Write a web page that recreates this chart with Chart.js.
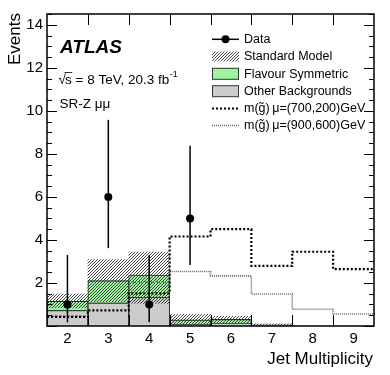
<!DOCTYPE html>
<html>
<head>
<meta charset="utf-8">
<script src="https://cdn.jsdelivr.net/npm/chart.js@4.4.1/dist/chart.umd.min.js"></script>
<style>
  html, body { margin: 0; padding: 0; background: #fff; }
  #wrap { width: 390px; height: 375px; }
</style>
</head>
<body>
<div id="wrap"><canvas id="chart" width="390" height="375"></canvas></div>
<script>
// jet multiplicity bins
const bins = ['2', '3', '4', '5', '6', '7', '8', '9'];
const binCentres = [2, 3, 4, 5, 6, 7, 8, 9];

// backgrounds (stacked)
const otherBkg = [0.73, 1.08, 1.34, 0.08, 0.14, 0.06, 0, 0];
const flavourSym = [0.43, 1.03, 1.03, 0.21, 0.17, 0, 0, 0];

// standard model uncertainty band
const smLow = [0.84, 1.12, 1.05, 0.06, 0.16, 0.02, 0, 0];
const smHigh = [1.48, 3.09, 3.43, 0.54, 0.45, 0.1, 0, 0];

// data with poisson errors
const dataCounts = [1, 6, 1, 5, null, null, null, null];
const dataErrLow = [0.17, 3.62, 0.17, 2.84, null, null, null, null];
const dataErrHigh = [3.3, 9.58, 3.3, 8.38, null, null, null, null];

// signal points
const sig700 = [0.42, 0.73, 1.52, 4.16, 4.5, 2.79, 3.45, 2.64];
const sig900 = [0.45, 1.08, 2.03, 2.53, 2.33, 1.49, 0.78, 0.56];

const yTickLabels = [2, 4, 6, 8, 10, 12, 14];

const FONT = '"Liberation Sans", Arial, Helvetica, sans-serif';

function makeHatch() {
    const c = document.createElement('canvas');
    c.width = 3; c.height = 3;
    const g = c.getContext('2d');
    g.strokeStyle = '#333';
    g.lineWidth = 0.9;
    g.beginPath();
    g.moveTo(0, 3); g.lineTo(3, 0);
    g.moveTo(-1, 1); g.lineTo(1, -1);
    g.moveTo(2, 4); g.lineTo(4, 2);
    g.stroke();
    return g.createPattern(c, 'repeat');
}

function stepPoints(values) {
    const pts = [];
    values.forEach(function (v, i) {
        pts.push({ x: binCentres[i] - 0.5, y: v });
        pts.push({ x: binCentres[i] + 0.5, y: v });
    });
    return pts;
}

const ctx = document.getElementById('chart').getContext('2d');
const hatch = makeHatch();
const green = '#9cf59c';
const grey = '#cccccc';

const decorations = {
    id: 'decorations',
    afterDatasetsDraw(chart) {
        const c = chart.ctx;
        const a = chart.chartArea;
        const y = chart.scales.y;
        const xl = chart.scales.xl;
        const x = chart.scales.x;
        c.save();

        // error bars
        c.strokeStyle = '#000';
        c.lineWidth = 1.5;
        dataCounts.forEach(function (v, i) {
            if (v === null) return;
            const px = x.getPixelForValue(i);
            c.beginPath();
            c.moveTo(px, y.getPixelForValue(dataErrLow[i]));
            c.lineTo(px, y.getPixelForValue(dataErrHigh[i]));
            c.stroke();
        });

        // inward ticks
        c.lineWidth = 1;
        for (let v = 0; v <= 14.5; v += 0.5) {
            const py = Math.round(y.getPixelForValue(v)) + 0.5;
            const len = v % 2 === 0 ? 10 : 5;
            c.beginPath();
            c.moveTo(a.left, py); c.lineTo(a.left + len, py);
            c.moveTo(a.right, py); c.lineTo(a.right - len, py);
            c.stroke();
        }
        for (let e = 2.5; e < 9.5; e += 1) {
            const px = Math.round(xl.getPixelForValue(e)) + 0.5;
            c.beginPath();
            c.moveTo(px, a.bottom); c.lineTo(px, a.bottom - 11);
            c.moveTo(px, a.top); c.lineTo(px, a.top + 11);
            c.stroke();
        }
        c.lineWidth = 1.5;
        c.strokeRect(a.left, a.top, a.right - a.left, a.bottom - a.top);
        c.restore();
    },
    afterDraw(chart) {
        const c = chart.ctx;
        c.save();
        c.fillStyle = '#000';
        c.textBaseline = 'alphabetic';

        // axis titles
        c.font = '17px ' + FONT;
        c.textAlign = 'right';
        c.fillText('Jet Multiplicity', 373, 364);
        c.save();
        c.translate(19.5, 13);
        c.rotate(-Math.PI / 2);
        c.fillText('Events', 0, 0);
        c.restore();

        // labels
        c.textAlign = 'left';
        c.font = 'italic bold 19px ' + FONT;
        c.fillText('ATLAS', 60, 52.5);

        c.font = '13.5px ' + FONT;
        c.fillText('\u221A', 58.5, 83.5);
        const sx = 65;
        c.fillText('s = 8 TeV, 20.3 fb', sx, 83.5);
        const sw = c.measureText('s').width;
        const fw = c.measureText('s = 8 TeV, 20.3 fb').width;
        c.lineWidth = 0.8;
        c.beginPath();
        c.moveTo(sx - 0.5, 72.5); c.lineTo(sx + sw + 0.5, 72.5);
        c.stroke();
        c.font = '9px ' + FONT;
        c.fillText('-1', sx + fw + 0.5, 77);

        c.font = '13.5px ' + FONT;
        c.fillText('SR-Z \u03BC\u03BC', 59.5, 107.5);

        // legend
        const lx0 = 212, lx1 = 239, tx = 244;
        const rows = [39.3, 56.5, 73.8, 91.2, 108.5, 125.5];
        c.font = '12.5px ' + FONT;
        c.textBaseline = 'middle';
        const texts = ['Data', 'Standard Model', 'Flavour Symmetric', 'Other Backgrounds',
            'm(g\u0303)\u2009\u03BC=(700,200)GeV', 'm(g\u0303)\u2009\u03BC=(900,600)GeV'];
        texts.forEach(function (t, i) { c.fillText(t, tx, rows[i] + 0.5); });

        c.strokeStyle = '#000';
        c.lineWidth = 1.5;
        c.beginPath();
        c.moveTo(lx0, rows[0]); c.lineTo(lx1, rows[0]);
        c.stroke();
        c.beginPath();
        c.arc((lx0 + lx1) / 2, rows[0], 4, 0, Math.PI * 2);
        c.fill();

        c.fillStyle = hatch;
        c.fillRect(lx0, rows[1] - 5, lx1 - lx0, 10);

        c.lineWidth = 1;
        c.strokeStyle = '#333';
        c.fillStyle = green;
        c.fillRect(lx0, rows[2] - 5.5, lx1 - lx0, 11);
        c.strokeRect(lx0 + 0.5, rows[2] - 5.5, lx1 - lx0 - 1, 11);
        c.fillStyle = grey;
        c.fillRect(lx0, rows[3] - 5.5, lx1 - lx0, 11);
        c.strokeRect(lx0 + 0.5, rows[3] - 5.5, lx1 - lx0 - 1, 11);

        c.strokeStyle = '#000';
        c.lineWidth = 2.2;
        c.setLineDash([2, 2]);
        c.beginPath();
        c.moveTo(lx0, rows[4]); c.lineTo(lx1, rows[4]);
        c.stroke();
        c.strokeStyle = '#666';
        c.lineWidth = 1.6;
        c.setLineDash([1, 1]);
        c.beginPath();
        c.moveTo(lx0, rows[5]); c.lineTo(lx1, rows[5]);
        c.stroke();
        c.restore();
    }
};

const barCommon = {
    grouped: false,
    barPercentage: 1,
    categoryPercentage: 1
};

const chart = new Chart(ctx, {
    type: 'bar',
    data: {
        labels: bins,
        datasets: [
            {
                type: 'line',
                label: 'Data',
                data: dataCounts,
                showLine: false,
                pointRadius: 4,
                pointBackgroundColor: '#000',
                pointBorderColor: '#000',
                pointBorderWidth: 0,
                order: 0
            },
            {
                type: 'line',
                label: 'm(g~) mu=(700,200)GeV',
                xAxisID: 'xl',
                data: stepPoints(sig700),
                borderColor: '#000',
                borderWidth: 2.2,
                borderDash: [2, 2],
                pointRadius: 0,
                fill: false,
                order: 1
            },
            {
                type: 'line',
                label: 'm(g~) mu=(900,600)GeV',
                xAxisID: 'xl',
                data: stepPoints(sig900),
                borderColor: '#666',
                borderWidth: 1.6,
                borderDash: [1, 1],
                pointRadius: 0,
                fill: false,
                order: 2
            },
            Object.assign({
                label: 'Standard Model',
                data: smLow.map(function (lo, i) { return [lo, smHigh[i]]; }),
                backgroundColor: hatch,
                borderWidth: 0,
                order: 3
            }, barCommon),
            Object.assign({
                label: 'Flavour Symmetric',
                data: otherBkg.map(function (b, i) { return [b, b + flavourSym[i]]; }),
                backgroundColor: green,
                borderColor: '#222',
                borderWidth: { top: 1.2, left: 1, right: 1, bottom: 0 },
                borderSkipped: false,
                order: 4
            }, barCommon),
            Object.assign({
                label: 'Other Backgrounds',
                data: otherBkg,
                backgroundColor: grey,
                borderColor: '#222',
                borderWidth: { top: 1.2, left: 1, right: 1, bottom: 0 },
                borderSkipped: false,
                order: 5
            }, barCommon)
        ]
    },
    options: {
        responsive: false,
        animation: false,
        layout: { padding: { top: 14, right: 16, left: 0, bottom: 0 } },
        plugins: {
            legend: { display: false },
            tooltip: { enabled: false }
        },
        scales: {
            x: {
                type: 'category',
                offset: true,
                grid: { display: false, drawTicks: false },
                border: { display: false },
                ticks: { color: '#000', font: { family: FONT, size: 15 }, padding: 4, maxRotation: 0 },
                afterFit: function (s) { s.height = 49; }
            },
            xl: {
                type: 'linear',
                display: false,
                offset: false,
                min: 1.5,
                max: 9.5
            },
            y: {
                min: 0,
                max: 14.5,
                grid: { display: false, drawTicks: false },
                border: { display: false },
                afterBuildTicks: function (s) {
                    s.ticks = yTickLabels.map(function (v) { return { value: v }; });
                },
                ticks: { color: '#000', font: { family: FONT, size: 15 }, padding: 4 },
                afterFit: function (s) { s.width = 47; }
            }
        }
    },
    plugins: [decorations]
});
</script>
</body>
</html>
